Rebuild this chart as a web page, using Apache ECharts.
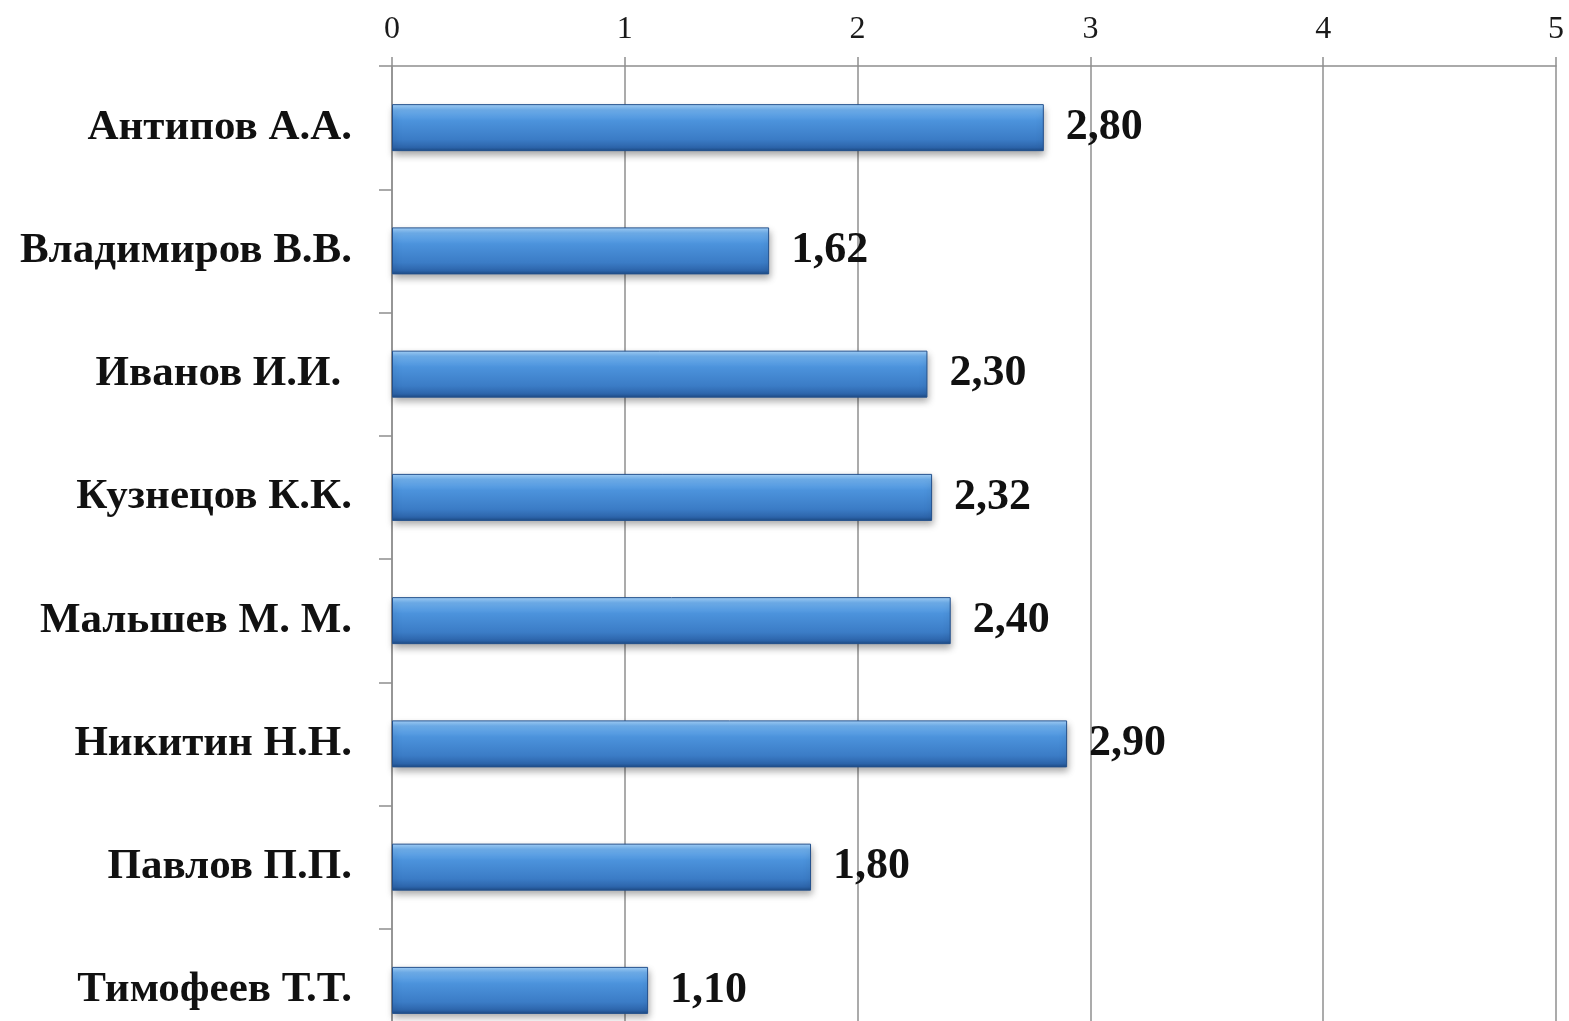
<!DOCTYPE html>
<html>
<head>
<meta charset="utf-8">
<script src="https://cdn.jsdelivr.net/npm/echarts@6/dist/echarts.min.js"></script>
<style>
  html, body { margin: 0; padding: 0; background: #fff; }
  #chart { width: 1569px; height: 1021px; }
</style>
</head>
<body>
<div id="chart"></div>
<script>
// Employees (top to bottom) and their scores
const names = [
  'Антипов А.А.',
  'Владимиров В.В.',
  'Иванов И.И. ',
  'Кузнецов К.К.',
  'Мальшев М. М.',
  'Никитин Н.Н.',
  'Павлов П.П.',
  'Тимофеев Т.Т.'
];
const scores = [2.80, 1.62, 2.30, 2.32, 2.40, 2.90, 1.80, 1.10];
const scaleTicks = [0, 1, 2, 3, 4, 5];

const serif = '"Liberation Serif", "Times New Roman", serif';
const lineGray = '#8f8f8f';

const chart = echarts.init(document.getElementById('chart'));

// Glossy blue fill for the bars
const barFill = new echarts.graphic.LinearGradient(0, 0, 0, 1, [
  { offset: 0, color: '#a6d3fb' },
  { offset: 0.12, color: '#6fb0ee' },
  { offset: 0.35, color: '#4c93dc' },
  { offset: 0.75, color: '#3b7cc6' },
  { offset: 0.92, color: '#2d65ab' },
  { offset: 1, color: '#1c4a84' }
]);

chart.setOption({
  backgroundColor: '#ffffff',
  animation: false,
  // the plot runs a little past the bottom edge of the page
  grid: { left: 392, top: 66, width: 1164, height: 986, outerBoundsMode: 'none', containLabel: false },
  xAxis: {
    type: 'value',
    position: 'top',
    min: scaleTicks[0],
    max: scaleTicks[scaleTicks.length - 1],
    interval: 1,
    axisLine: { show: true, lineStyle: { color: lineGray, width: 1.5 } },
    axisTick: { show: true, length: 9, lineStyle: { color: lineGray, width: 1.5 } },
    axisLabel: {
      margin: 20,
      fontFamily: serif,
      fontSize: 32,
      color: '#1a1a1a',
      formatter: v => String(v)
    },
    splitLine: { show: true, lineStyle: { color: lineGray, width: 1.5 } }
  },
  yAxis: {
    type: 'category',
    inverse: true,
    data: names,
    axisLine: { show: true, lineStyle: { color: lineGray, width: 1.5 } },
    axisTick: { show: true, length: 13, lineStyle: { color: lineGray, width: 1.5 } },
    axisLabel: {
      margin: 40,
      fontFamily: serif,
      fontWeight: 'bold',
      fontSize: 43,
      color: '#111'
    },
    splitLine: { show: false }
  },
  series: [{
    type: 'bar',
    data: scores,
    barWidth: 47,
    itemStyle: {
      color: barFill,
      borderColor: '#23508c',
      borderWidth: 1,
      shadowColor: 'rgba(0,0,0,0.35)',
      shadowBlur: 7,
      shadowOffsetY: 4,
      shadowOffsetX: 1
    },
    label: {
      show: true,
      position: 'right',
      distance: 22,
      fontFamily: serif,
      fontWeight: 'bold',
      fontSize: 44,
      color: '#111',
      formatter: p => p.value.toFixed(2).replace('.', ',')
    }
  }]
});
</script>
</body>
</html>
